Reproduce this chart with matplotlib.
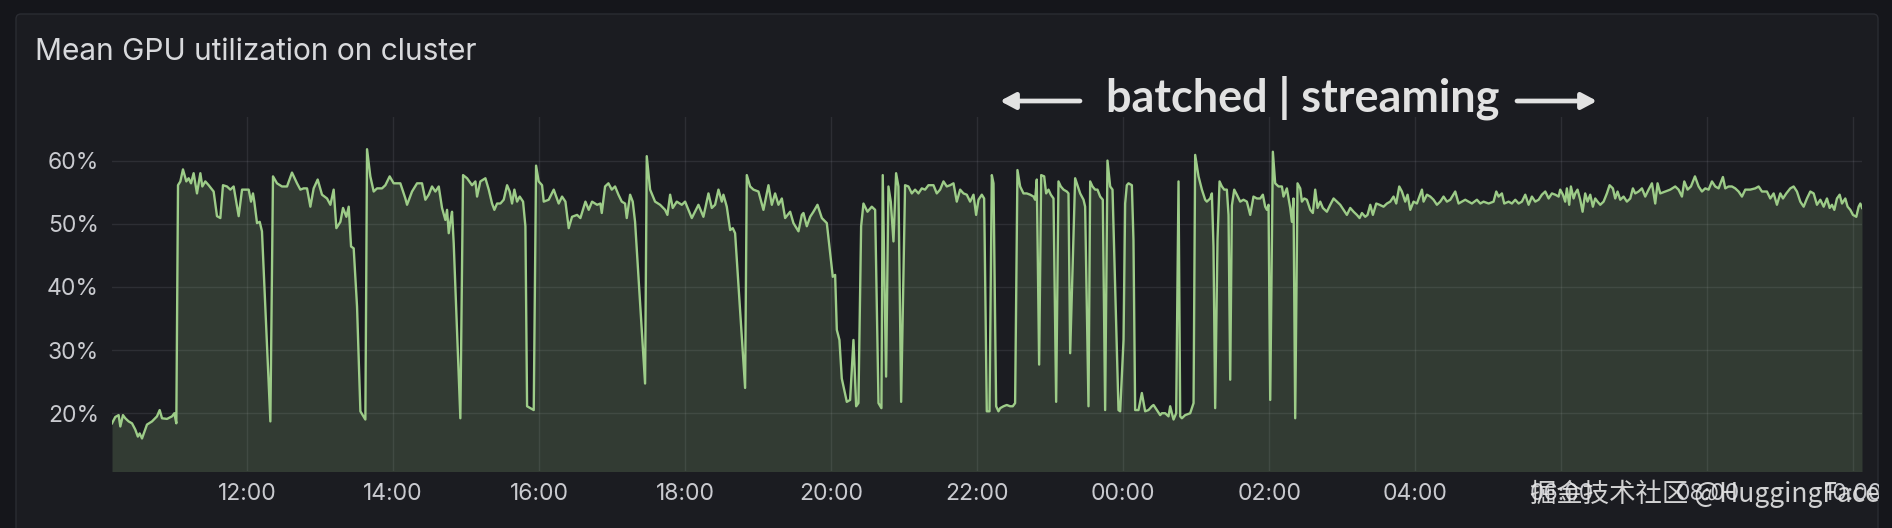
import matplotlib.pyplot as plt
from matplotlib.patches import FancyBboxPatch, Rectangle, FancyArrowPatch
from matplotlib.transforms import IdentityTransform

# time of day in hours (values > 24 are the next day), utilisation in %
hours = [
    10.151, 10.196, 10.242, 10.265, 10.301, 10.333, 10.379, 10.425, 10.470, 10.505,
    10.530, 10.562, 10.630, 10.699, 10.767, 10.804, 10.836, 10.904, 10.973, 11.005, 11.032,
    11.055, 11.087, 11.123, 11.169, 11.201, 11.233, 11.269, 11.315, 11.361, 11.388,
    11.429, 11.475, 11.543, 11.589, 11.635, 11.671, 11.726, 11.772, 11.817, 11.886,
    11.932, 11.977, 12.023, 12.055, 12.082, 12.100, 12.137, 12.174, 12.205, 12.251, 12.320,
    12.356, 12.411, 12.479, 12.548, 12.616, 12.685, 12.731, 12.776, 12.822, 12.868,
    12.913, 12.968, 13.027, 13.096, 13.142, 13.187, 13.224, 13.279, 13.315, 13.361,
    13.393, 13.425, 13.461, 13.507, 13.553, 13.621,
    13.644, 13.689, 13.735, 13.781, 13.849, 13.895, 13.954, 14.009, 14.100, 14.169,
    14.192, 14.260, 14.329, 14.397, 14.443, 14.489, 14.534, 14.580, 14.626, 14.671,
    14.717, 14.740, 14.763, 14.785, 14.808, 14.831, 14.922,
    14.959, 15.014, 15.082, 15.128, 15.151, 15.196, 15.265, 15.311, 15.356, 15.388,
    15.425, 15.470, 15.516, 15.562, 15.598, 15.630, 15.662, 15.699, 15.735, 15.781,
    15.813, 15.836, 15.927,
    15.959, 15.995, 16.041, 16.064, 16.132, 16.201, 16.269, 16.315, 16.361, 16.406,
    16.452, 16.521, 16.566, 16.635, 16.680, 16.726, 16.795, 16.840, 16.859, 16.904,
    16.950, 16.996, 17.041, 17.087, 17.133, 17.178, 17.201, 17.247, 17.283, 17.315, 17.452,
    17.475, 17.521, 17.589, 17.658, 17.726, 17.758, 17.795, 17.831, 17.886, 17.955,
    18.000, 18.092, 18.183, 18.251, 18.320, 18.366, 18.411, 18.457, 18.503, 18.525,
    18.571, 18.617, 18.653, 18.685, 18.822,
    18.845, 18.891, 18.936, 19.005, 19.073, 19.142, 19.188, 19.233, 19.279, 19.325,
    19.370, 19.439, 19.484, 19.553, 19.599, 19.621, 19.667, 19.713, 19.758, 19.813,
    19.873, 19.941, 20.023, 20.055, 20.078, 20.114, 20.146, 20.215, 20.260, 20.306,
    20.343, 20.374, 20.411, 20.443, 20.498, 20.557, 20.603, 20.649,
    20.689, 20.707, 20.753, 20.785, 20.817, 20.854, 20.890, 20.922, 20.959, 21.013,
    21.059, 21.105, 21.150, 21.196, 21.242, 21.287, 21.333, 21.402, 21.447,
    21.493, 21.539, 21.584, 21.630, 21.676, 21.721, 21.767, 21.813, 21.858, 21.904,
    21.950, 21.986, 22.018, 22.064, 22.096, 22.132, 22.169, 22.201, 22.224, 22.260,
    22.292, 22.315, 22.361, 22.406, 22.452, 22.488, 22.520, 22.552, 22.589, 22.635,
    22.680, 22.726, 22.772, 22.794, 22.817, 22.849, 22.877, 22.918, 22.945, 22.977,
    23.009, 23.046, 23.082, 23.114, 23.146, 23.183, 23.228, 23.251, 23.274, 23.342,
    23.379, 23.411, 23.457, 23.479, 23.525, 23.548, 23.580, 23.616, 23.648, 23.685,
    23.721, 23.753, 23.785, 23.822, 23.854, 23.936, 23.959, 24.005, 24.027, 24.050,
    24.073, 24.119, 24.141, 24.164,
    24.210, 24.256, 24.301, 24.347, 24.393, 24.416, 24.461, 24.507, 24.530, 24.575,
    24.621, 24.644, 24.667, 24.690, 24.726, 24.758, 24.781, 24.804, 24.849, 24.918,
    24.964, 24.986, 25.032, 25.078, 25.123, 25.146, 25.192, 25.215, 25.237, 25.260,
    25.292, 25.320, 25.352, 25.384, 25.420, 25.443, 25.466, 25.489, 25.521, 25.557,
    25.603, 25.648, 25.694, 25.740, 25.785, 25.831, 25.877, 25.913, 25.945, 25.968,
    25.991, 26.014, 26.050, 26.082, 26.128, 26.174, 26.196, 26.242, 26.288, 26.311,
    26.333, 26.356,
    26.388, 26.425, 26.448, 26.480, 26.516, 26.562, 26.598, 26.630, 26.662, 26.699,
    26.735, 26.790, 26.836, 26.882, 26.927, 26.973, 27.019, 27.064, 27.110, 27.156,
    27.201, 27.238, 27.270, 27.315, 27.347, 27.384, 27.420, 27.466, 27.512, 27.566,
    27.612, 27.658, 27.703, 27.740, 27.781, 27.818, 27.863, 27.895, 27.932, 27.977,
    28.023, 28.092, 28.114, 28.160, 28.206, 28.251, 28.297, 28.343, 28.388, 28.434,
    28.480, 28.548, 28.594, 28.640, 28.685, 28.731, 28.776, 28.845, 28.891, 28.936,
    29.005, 29.073, 29.110, 29.142, 29.187, 29.219, 29.279, 29.324, 29.370, 29.416,
    29.461, 29.507, 29.553, 29.598, 29.644, 29.690, 29.735, 29.781, 29.827, 29.872,
    29.918, 29.964,
    29.986, 30.023, 30.054, 30.077, 30.109, 30.132, 30.169, 30.191, 30.223, 30.260,
    30.292, 30.328, 30.360, 30.397, 30.433, 30.465, 30.497, 30.534, 30.580, 30.625,
    30.662, 30.707, 30.739, 30.771, 30.808, 30.854, 30.899, 30.945, 30.981, 31.013,
    31.059, 31.105, 31.150, 31.196, 31.242, 31.287, 31.319, 31.356, 31.424, 31.493,
    31.561, 31.607, 31.653, 31.685, 31.730, 31.776, 31.831, 31.881, 31.927, 31.972,
    32.018, 32.064, 32.109, 32.155, 32.214, 32.246, 32.292, 32.338, 32.383, 32.429,
    32.475, 32.520, 32.589, 32.657, 32.703, 32.749, 32.817, 32.863, 32.909, 32.954,
    33.000, 33.037, 33.082, 33.137, 33.183, 33.228, 33.274, 33.320, 33.365, 33.411,
    33.457, 33.502, 33.548, 33.594, 33.639, 33.676, 33.708, 33.740, 33.776, 33.813,
    33.845, 33.890, 33.922, 33.959, 33.995, 34.041, 34.073, 34.096, 34.119,
]

gpu_util = [
    18.4, 19.4, 19.7, 17.9, 19.7, 19.2, 18.7, 18.4, 17.4, 16.3,
    16.8, 16.0, 18.2, 18.7, 19.5, 20.5, 19.2, 19.1, 19.5, 20.0, 18.4,
    56.1, 56.7, 58.6, 56.7, 57.2, 56.4, 58.0, 54.8, 58.0, 55.9,
    56.7, 56.1, 55.1, 51.2, 50.9, 56.1, 55.9, 55.4, 55.9, 51.2,
    55.4, 55.4, 55.4, 53.5, 54.8, 53.5, 50.1, 50.3, 48.8, 36.9, 18.7,
    57.5, 56.4, 55.9, 55.9, 58.1, 56.4, 55.4, 55.6, 55.6, 52.7,
    55.6, 57.0, 54.6, 54.0, 53.0, 55.4, 49.3, 50.3, 52.5, 51.1,
    52.7, 46.4, 46.1, 36.9, 20.3, 19.0,
    61.8, 57.5, 55.1, 55.6, 55.6, 56.1, 57.5, 56.4, 56.4, 54.0,
    53.0, 55.1, 56.4, 56.4, 53.8, 54.6, 55.9, 55.1, 55.9, 52.5,
    50.6, 52.2, 48.5, 50.3, 51.9, 46.9, 19.2,
    57.7, 57.2, 56.1, 56.7, 54.3, 56.7, 57.2, 55.4, 53.2, 52.2,
    53.2, 53.2, 53.8, 56.1, 55.1, 53.2, 55.4, 53.5, 54.3, 53.5,
    49.6, 21.1, 20.5,
    59.2, 56.7, 56.1, 53.5, 53.8, 55.4, 53.2, 54.3, 53.5, 49.3,
    51.1, 51.4, 50.9, 53.5, 52.2, 53.5, 53.0, 53.2, 51.7, 55.9,
    56.4, 55.4, 55.9, 54.6, 53.5, 53.2, 50.9, 54.6, 53.5, 50.3, 24.7,
    60.7, 55.4, 53.5, 53.0, 52.2, 51.4, 54.6, 52.5, 53.5, 53.0,
    53.5, 50.9, 53.0, 51.1, 54.8, 52.5, 53.0, 55.4, 53.5, 54.6,
    52.7, 49.0, 49.3, 48.5, 24.0,
    57.7, 55.9, 55.4, 55.1, 52.2, 56.1, 53.0, 54.8, 53.0, 54.0,
    50.9, 51.9, 50.1, 48.8, 51.4, 51.7, 49.6, 51.1, 51.9, 53.0,
    50.9, 50.1, 41.6, 41.9, 33.2, 31.6, 25.5, 21.8, 22.1, 31.6,
    21.1, 21.6, 49.6, 53.2, 51.9, 52.7, 52.2, 21.6,
    20.8, 57.7, 25.8, 55.9, 53.5, 47.2, 58.0, 55.9, 21.8, 56.1,
    55.9, 54.8, 55.4, 54.8, 55.6, 55.4, 56.1, 56.1, 54.8,
    55.4, 56.7, 55.9, 56.1, 56.4, 53.5, 55.4, 54.8, 54.6, 53.5,
    54.6, 51.4, 53.8, 54.6, 54.0, 20.3, 20.3, 57.7, 56.4, 21.1,
    20.3, 20.8, 21.1, 21.3, 21.1, 21.1, 21.6, 58.5, 55.9, 54.8,
    54.8, 54.6, 54.3, 53.8, 57.0, 27.7, 57.7, 57.5, 54.8, 55.4,
    54.6, 54.0, 21.8, 56.7, 55.9, 55.4, 55.1, 54.8, 29.5, 57.2,
    55.9, 54.8, 53.8, 52.7, 21.1, 56.7, 55.9, 55.4, 55.4, 54.3,
    53.8, 20.5, 60.0, 55.9, 55.4, 20.5, 20.3, 31.6, 53.2, 56.1,
    56.4, 56.1, 47.4, 20.5,
    20.5, 23.2, 20.3, 20.5, 21.1, 21.3, 20.5, 19.7, 20.0, 20.0,
    19.5, 21.1, 20.0, 19.0, 20.0, 56.7, 19.5, 19.2, 19.7, 20.0,
    21.6, 60.9, 57.5, 55.4, 53.8, 53.5, 54.0, 54.8, 46.4, 20.8,
    47.4, 56.7, 55.9, 55.4, 55.4, 51.4, 25.3, 52.9, 55.4, 54.6,
    53.5, 53.8, 53.5, 51.4, 54.3, 54.0, 54.0, 54.6, 52.7, 52.2,
    53.0, 22.1, 61.4, 56.4, 55.9, 55.9, 54.3, 55.6, 52.5, 50.3,
    54.0, 19.2,
    56.4, 55.6, 53.5, 54.0, 53.8, 52.2, 51.7, 55.4, 52.5, 53.5,
    52.5, 51.9, 53.0, 54.0, 53.5, 53.0, 52.2, 51.4, 52.5, 51.9,
    51.4, 50.9, 51.7, 51.1, 51.4, 53.0, 51.4, 53.2, 53.0, 52.7,
    53.2, 53.5, 54.3, 53.2, 55.9, 55.1, 53.5, 54.6, 52.2, 53.5,
    53.2, 55.4, 53.5, 54.6, 54.3, 53.8, 53.0, 53.5, 54.3, 53.5,
    53.8, 55.1, 53.2, 53.5, 53.8, 53.5, 53.2, 53.8, 53.2, 53.5,
    53.2, 53.5, 55.1, 54.3, 54.8, 53.2, 53.5, 53.2, 53.8, 53.2,
    53.5, 54.6, 53.0, 54.3, 53.5, 53.8, 54.6, 55.1, 54.0, 54.8,
    54.6, 54.3,
    55.4, 54.6, 53.5, 55.6, 53.0, 55.9, 54.0, 54.8, 55.4, 53.8,
    51.9, 54.8, 53.5, 54.6, 52.7, 54.0, 53.5, 53.0, 53.5, 54.8,
    56.1, 55.6, 54.0, 55.1, 53.8, 54.3, 53.5, 54.0, 55.6, 54.8,
    55.1, 55.6, 54.3, 55.4, 56.4, 53.2, 56.4, 54.8, 55.1, 55.4,
    55.9, 55.4, 54.3, 56.7, 55.4, 55.9, 57.5, 55.9, 55.1, 55.6,
    55.4, 56.7, 55.9, 55.6, 57.4, 55.6, 55.9, 55.9, 55.6, 55.1,
    54.3, 55.4, 55.4, 55.6, 55.9, 55.1, 55.1, 54.0, 54.8, 53.0,
    54.8, 54.0, 54.8, 55.6, 55.9, 55.1, 53.5, 52.7, 54.0, 55.1,
    54.8, 53.0, 53.8, 52.7, 54.0, 52.5, 53.0, 52.2, 54.0, 54.6,
    53.2, 54.0, 52.7, 52.2, 51.4, 51.1, 52.7, 53.2, 52.5,
]

tick_hours = [12, 14, 16, 18, 20, 22, 24, 26, 28, 30, 32, 34]
tick_labels = ["12:00", "14:00", "16:00", "18:00", "20:00", "22:00",
               "00:00", "02:00", "04:00", "06:00", "08:00", "10:00"]
y_ticks = [20, 30, 40, 50, 60]
y_labels = ["20%", "30%", "40%", "50%", "60%"]

W, H = 1892, 528
outer_bg = "#15161b"
panel_bg = "#1b1c21"
line_col = "#9dcc88"
text_col = "#c9cacf"

plt.rcParams["font.family"] = ["Inter", "DejaVu Sans"]

fig = plt.figure(figsize=(W / 100, H / 100), dpi=100, facecolor=outer_bg)

# grafana panel
panel = FancyBboxPatch((16, -20), 1862, 534, boxstyle="round,pad=0,rounding_size=5",
                       transform=IdentityTransform(), fc=panel_bg, ec="#2a2c32",
                       lw=1, zorder=-10)
fig.add_artist(panel)

ax = fig.add_axes([112 / W, 1 - 471 / H, 1750 / W, 354 / H])
ax.set_facecolor("none")
ax.fill_between(hours, gpu_util, 0, color=line_col, alpha=0.18, lw=0, zorder=2)
ax.plot(hours, gpu_util, color=line_col, lw=1.7, zorder=3)

ax.set_xlim(hours[0], hours[-1])
ax.set_ylim(10.85, 66.9)
ax.set_xticks(tick_hours, tick_labels)
ax.set_yticks(y_ticks, y_labels)
ax.tick_params(axis="both", length=0, labelsize=16.5, labelcolor=text_col)
ax.tick_params(axis="x", pad=9)
ax.tick_params(axis="y", pad=9.4)
ax.grid(True, color="#cccedc", alpha=0.1, lw=1, zorder=1)
ax.set_axisbelow(True)
for s in ax.spines.values():
    s.set_visible(False)

# hide what spills past the panel's right edge
fig.add_artist(Rectangle((1879, 0), 20, H, transform=IdentityTransform(),
                         fc=outer_bg, ec="none", zorder=5))

fig.text(35 / W, 1 - 60 / H, "Mean GPU utilization on cluster", fontsize=21.5,
         color="#d8d9dc", va="baseline")

# batched | streaming annotation
fig.text(1303 / W, 1 - 111 / H, "batched | streaming", family="Lato",
         fontweight="bold", fontsize=32.4, color="#e2e2e2", ha="center",
         va="baseline")
arrow_style = "-|>,head_length=0.45,head_width=0.24"
fig.add_artist(FancyArrowPatch((1080, H - 101), (1000, H - 101), transform=IdentityTransform(),
                               arrowstyle=arrow_style, mutation_scale=20, lw=3.4,
                               color="#e2e2e2", shrinkA=0, shrinkB=0))
fig.add_artist(FancyArrowPatch((1517, H - 101), (1597, H - 101), transform=IdentityTransform(),
                               arrowstyle=arrow_style, mutation_scale=20, lw=3.4,
                               color="#e2e2e2", shrinkA=0, shrinkB=0))

# watermark
fig.text(1880 / W, 1 - 494 / H, "掘金技术社区 @HuggingFace",
         family=["Noto Sans CJK SC", "DejaVu Sans"], fontsize=19,
         color="#e6e6e6", alpha=0.9, ha="right", va="center", zorder=6)

fig.savefig("out.png", dpi=100, facecolor=outer_bg)
